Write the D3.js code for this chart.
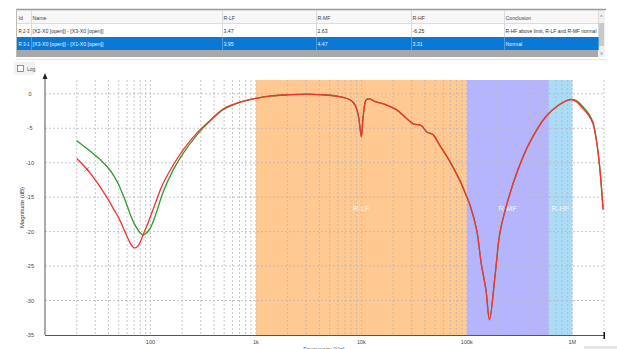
<!DOCTYPE html>
<html>
<head>
<meta charset="utf-8">
<script src="https://cdn.jsdelivr.net/npm/d3@7"></script>
<style>
  body { margin: 0; background: #fff; }
  svg { display: block; font-family: "Liberation Sans", Arial, sans-serif; }
</style>
</head>
<body>
<svg id="chart" width="617" height="349"></svg>
<script>
// table contents
var columns = ["Id", "Name", "R-LF", "R-MF", "R-HF", "Conclusion"];
var row1 = ["R 2-3", "[X2-X0 [open]] - [X3-X0 [open]]", "3.47", "2.63", "-6.25", "R-HF above limit, R-LF and R-MF normal"];
var row2 = ["R 3-1", "[X3-X0 [open]] - [X1-X0 [open]]", "3.95", "4.47", "3.31", "Normal"];

// frequency bands
var bandNames = ["R-LF", "R-MF", "R-HF"];
var bandEdges = [1000, 100000, 600000, 1000000];

// axis ticks
var yTicks = [0, -5, -10, -15, -20, -25, -30, -35];
var xTickValues = [100, 1000, 10000, 100000, 1000000];
var xTickLabels = ["100", "1k", "10k", "100k", "1M"];

// measured curves (Hz / dB)
var freqs = [20, 25, 30, 35, 40, 45, 50, 55, 60, 65, 70, 75, 80, 85, 90, 100, 115, 130, 165, 205, 275, 365, 490, 750,
    1000, 1400, 2000, 3000, 4300, 6200, 7800, 8700, 9400, 10000, 10400, 11100, 11900, 13400, 17200, 21500, 26500,
    31000, 37000, 41500, 48000, 55000, 69000, 86000, 99000, 107000, 124000, 137000, 152000, 164000, 185000, 206000,
    246000, 306000, 391000, 563000, 751000, 937000, 1085000, 1256000, 1455000, 1570000, 1690000, 1820000, 1960000];

var greenDb = [-6.8, -7.95, -8.95, -9.85, -10.8, -11.9, -13.2, -14.7, -16.2, -17.7, -18.8, -19.6, -20.2, -20.5, -20.3, -19.45, -17.05, -14.5, -11.0, -8.6, -6.0, -4.0, -2.3, -1.1,
    -0.65, -0.3, -0.15, -0.05, -0.15, -0.4, -0.87, -1.6, -3.3, -6.2, -3.3, -0.9, -0.75, -1.1, -1.6, -2.3, -3.5,
    -4.36, -4.6, -5.5, -5.95, -7.4, -9.8, -12.6, -14.8, -16.1, -19.75, -24.6, -28.5, -32.8, -26.5, -20.2,
    -15.4, -11.0, -7.2, -3.3, -1.6, -0.85, -0.95, -1.85, -3.05, -4.1, -6.6, -10.6, -16.8];

var redDb = [-9.4, -10.95, -12.5, -14.0, -15.4, -16.8, -18.0, -19.4, -20.7, -21.8, -22.35, -22.2, -21.5, -20.5, -19.6, -17.8, -15.3, -13.2, -10.3, -8.1, -5.7, -3.9, -2.2, -1.1,
    -0.65, -0.3, -0.15, -0.05, -0.15, -0.4, -0.87, -1.6, -3.3, -6.2, -3.3, -0.9, -0.75, -1.1, -1.6, -2.3, -3.5,
    -4.36, -4.6, -5.5, -5.95, -7.4, -9.8, -12.6, -14.8, -16.1, -19.75, -24.6, -28.5, -32.8, -26.5, -20.2,
    -15.4, -11.0, -7.2, -3.3, -1.6, -0.87, -1.1, -2.1, -3.3, -4.3, -6.7, -10.6, -16.8];

var markerPoint = [25, -10.95];

var svg = d3.select("#chart");

var plotLeft = 45, plotRight = 604, plotTop = 80, plotBottom = 335;

var x = d3.scaleLog().domain([10, 2e6]).range([plotLeft, plotRight]);
var y = d3.scaleLinear().domain([-35, 2]).range([plotBottom, plotTop]);

//---------------- table ----------------
var colX = [17, 31, 222, 316, 411, 504, 598];

var table = svg.append("g");

table.append("rect").attr("x", 17).attr("y", 10).attr("width", 588).attr("height", 13).attr("fill", "#f7f7f7");
table.append("rect").attr("x", 17).attr("y", 23).attr("width", 581).attr("height", 14).attr("fill", "#fff");
table.append("rect").attr("x", 17).attr("y", 37).attr("width", 581).attr("height", 13).attr("fill", "#0a78d5");
table.append("rect").attr("x", 17).attr("y", 50).attr("width", 588).attr("height", 7).attr("fill", "#a8a8a8");

// scroll bar
table.append("rect").attr("x", 598).attr("y", 10).attr("width", 7).attr("height", 47).attr("fill", "#f0f0f0");
table.append("rect").attr("x", 599).attr("y", 23).attr("width", 5).attr("height", 23).attr("fill", "#c9c9c9");
table.append("text").attr("x", 601.5).attr("y", 19).attr("text-anchor", "middle")
    .attr("font-size", 6).attr("fill", "#777").text("^");
table.append("text").attr("x", 601.5).attr("y", 55).attr("text-anchor", "middle")
    .attr("font-size", 5).attr("fill", "#777").text("v");

table.append("line").attr("x1", 16).attr("x2", 606).attr("y1", 9.5).attr("y2", 9.5)
    .attr("stroke", "#999").attr("stroke-width", 1.5);
table.append("line").attr("x1", 17).attr("x2", 598).attr("y1", 23.5).attr("y2", 23.5)
    .attr("stroke", "#ddd");
table.append("line").attr("x1", 16.5).attr("x2", 16.5).attr("y1", 9).attr("y2", 57)
    .attr("stroke", "#bbb");
table.append("line").attr("x1", 16).attr("x2", 606).attr("y1", 59.5).attr("y2", 59.5)
    .attr("stroke", "#e6e6e6");

colX.slice(1).forEach(function (cx) {
    table.append("line").attr("x1", cx + 0.5).attr("x2", cx + 0.5).attr("y1", 10).attr("y2", 37)
        .attr("stroke", "#dcdcdc");
    table.append("line").attr("x1", cx + 0.5).attr("x2", cx + 0.5).attr("y1", 37).attr("y2", 50)
        .attr("stroke", "#4a9be0");
});

function tableRow(vals, ty, color) {
    table.selectAll(null)
        .data(vals)
        .enter()
        .append("text")
        .attr("x", function (d, i) { return colX[i] + 1.5; })
        .attr("y", ty)
        .attr("font-size", 5.2)
        .attr("fill", color)
        .text(function (d) { return d; })
        .each(function (d, i) {
            // squeeze text that would run past its cell
            var room = colX[i + 1] - colX[i] - 3;
            var w = this.getComputedTextLength();
            if (w > room) {
                d3.select(this).attr("textLength", room).attr("lengthAdjust", "spacingAndGlyphs");
            }
        });
}
tableRow(columns, 19.5, "#444");
tableRow(row1, 33, "#333");
tableRow(row2, 46, "#e8f2ff");

// Log checkbox
svg.append("rect").attr("x", 14).attr("y", 62).attr("width", 21).attr("height", 13).attr("fill", "#f2f2f2");
svg.append("rect").attr("x", 17.5).attr("y", 65.5).attr("width", 6).attr("height", 6)
    .attr("fill", "#fff").attr("stroke", "#777").attr("stroke-width", 0.8);
svg.append("text").attr("x", 27).attr("y", 71).attr("font-size", 5).attr("fill", "#555").text("Log");

//---------------- chart ----------------
var bandColors = ["#ffc991", "#b5b5ff", "#aadcf8"];

svg.append("g").selectAll("rect")
    .data(bandNames)
    .enter()
    .append("rect")
    .attr("x", function (d, i) { return x(bandEdges[i]); })
    .attr("width", function (d, i) { return x(bandEdges[i + 1]) - x(bandEdges[i]); })
    .attr("y", plotTop)
    .attr("height", plotBottom - plotTop)
    .attr("fill", function (d, i) { return bandColors[i]; });

// grid
var gridX = [];
for (var p = 1; p <= 6; p++) {
    for (var k = 1; k <= 9; k++) {
        var v = k * Math.pow(10, p);
        if (v > 10 && v <= 2e6) gridX.push(v);
    }
}

svg.append("g").selectAll("line")
    .data(gridX)
    .enter()
    .append("line")
    .attr("x1", function (d) { return x(d); })
    .attr("x2", function (d) { return x(d); })
    .attr("y1", plotTop)
    .attr("y2", plotBottom)
    .attr("stroke", "#b8b8b8")
    .attr("stroke-width", 0.8)
    .attr("stroke-dasharray", "2,2");

svg.append("g").selectAll("line")
    .data(yTicks.filter(function (d) { return d > -35; }))
    .enter()
    .append("line")
    .attr("x1", plotLeft)
    .attr("x2", plotRight)
    .attr("y1", function (d) { return y(d); })
    .attr("y2", function (d) { return y(d); })
    .attr("stroke", "#b8b8b8")
    .attr("stroke-width", 0.8)
    .attr("stroke-dasharray", "2,2");

// band labels
svg.append("g").selectAll("text")
    .data(bandNames)
    .enter()
    .append("text")
    .attr("x", function (d, i) { return (x(bandEdges[i]) + x(bandEdges[i + 1])) / 2; })
    .attr("y", (plotTop + plotBottom) / 2 + 3)
    .attr("text-anchor", "middle")
    .attr("font-size", 7.5)
    .attr("fill", "#fff")
    .attr("fill-opacity", 0.85)
    .text(function (d) { return d; });

// curves
var line = d3.line()
    .x(function (d) { return x(d[0]); })
    .y(function (d) { return y(d[1]); })
    .curve(d3.curveCatmullRom.alpha(0.5));

var greenPts = freqs.map(function (f, i) { return [f, greenDb[i]]; });
var redPts = freqs.map(function (f, i) { return [f, redDb[i]]; });

svg.append("path").datum(greenPts)
    .attr("d", line).attr("fill", "none")
    .attr("stroke", "#2f9a2f").attr("stroke-width", 1.3);
svg.append("path").datum(redPts)
    .attr("d", line).attr("fill", "none")
    .attr("stroke", "#ff2e2e").attr("stroke-width", 1.3);

// small cross marker on red trace
var mx = x(markerPoint[0]), my = y(markerPoint[1]);
svg.append("path")
    .attr("d", "M" + (mx - 2) + "," + (my - 2) + "L" + (mx + 2) + "," + (my + 2) +
        "M" + (mx - 2) + "," + (my + 2) + "L" + (mx + 2) + "," + (my - 2))
    .attr("stroke", "#c33").attr("stroke-width", 0.7);

// axes
svg.append("line").attr("x1", plotLeft).attr("x2", plotLeft).attr("y1", plotBottom).attr("y2", 77)
    .attr("stroke", "#555").attr("stroke-width", 1);
svg.append("path").attr("d", "M" + plotLeft + ",73L" + (plotLeft - 2.5) + ",79L" + (plotLeft + 2.5) + ",79Z")
    .attr("fill", "#222");
svg.append("line").attr("x1", plotLeft).attr("x2", plotRight).attr("y1", plotBottom + 0.5).attr("y2", plotBottom + 0.5)
    .attr("stroke", "#555").attr("stroke-width", 1);
svg.append("rect").attr("x", plotRight - 0.5).attr("y", plotBottom - 3).attr("width", 1.5).attr("height", 7)
    .attr("fill", "#111");

svg.append("g").selectAll("text")
    .data(yTicks)
    .enter()
    .append("text")
    .attr("x", 30)
    .attr("y", function (d) { return y(d) + 2; })
    .attr("text-anchor", "middle")
    .attr("font-size", 5.5)
    .attr("fill", "#444")
    .text(function (d) { return d; });

svg.append("g").selectAll("text")
    .data(xTickValues)
    .enter()
    .append("text")
    .attr("x", function (d) { return x(d); })
    .attr("y", plotBottom + 9)
    .attr("text-anchor", "middle")
    .attr("font-size", 5.5)
    .attr("fill", "#444")
    .text(function (d, i) { return xTickLabels[i]; });

svg.append("text")
    .attr("transform", "translate(24," + ((plotTop + plotBottom) / 2) + ") rotate(-90)")
    .attr("text-anchor", "middle")
    .attr("font-size", 6)
    .attr("fill", "#333")
    .text("Magnitude (dB)");

// axis title sits partly below the window edge, as in the original
svg.append("text")
    .attr("x", 324).attr("y", 351)
    .attr("text-anchor", "middle")
    .attr("font-size", 6)
    .attr("fill", "#555")
    .text("Frequency (Hz)");

svg.append("rect").attr("x", 584).attr("y", 346).attr("width", 33).attr("height", 3).attr("fill", "#e4e4e4");
</script>
</body>
</html>
